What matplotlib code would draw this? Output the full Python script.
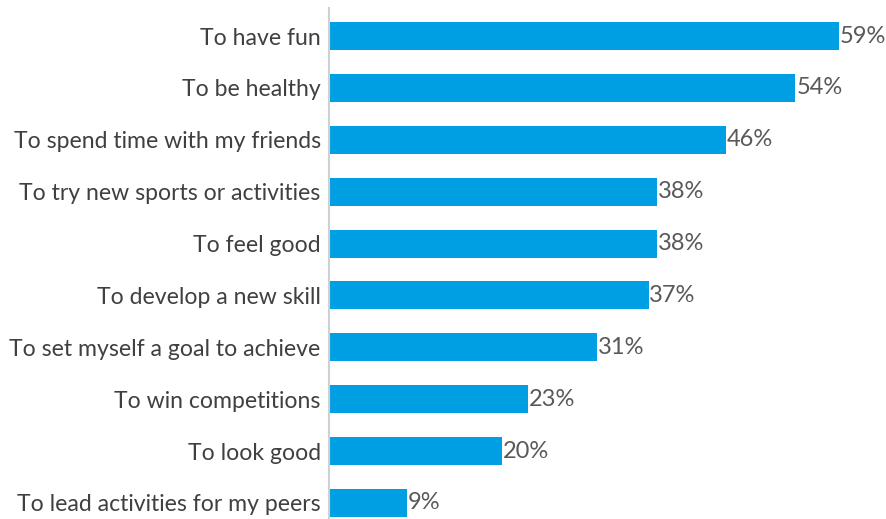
import matplotlib.pyplot as plt

reasons = [
    "To have fun",
    "To be healthy",
    "To spend time with my friends",
    "To try new sports or activities",
    "To feel good",
    "To develop a new skill",
    "To set myself a goal to achieve",
    "To win competitions",
    "To look good",
    "To lead activities for my peers",
]
percent = [59, 54, 46, 38, 38, 37, 31, 23, 20, 9]

plt.rcParams["font.family"] = ["Lato", "DejaVu Sans"]

fig = plt.figure(figsize=(8.86, 5.19), dpi=100)
ax = fig.add_axes([329 / 886, 0.0, 1 - 329 / 886, 1 - 8 / 519])

pos = list(range(len(reasons)))
ax.barh(pos, percent, height=0.54, color="#009FE3")

for y, v in zip(pos, percent):
    ax.text(v + 0.1, y, f"{v}%", va="center", ha="left", fontsize=17, color="#595959")

ax.set_xlim(0, 64.5)
ax.set_ylim(9.31, -0.54)
ax.set_yticks(pos)
ax.set_yticklabels(reasons, fontsize=16.6, color="#404040")
ax.tick_params(axis="y", length=0, pad=6)
ax.set_xticks([])

for s in ["top", "right", "bottom"]:
    ax.spines[s].set_visible(False)
ax.spines["left"].set_color("#D0D0D0")
ax.spines["left"].set_linewidth(1.5)

fig.savefig("out.png", dpi=100)
